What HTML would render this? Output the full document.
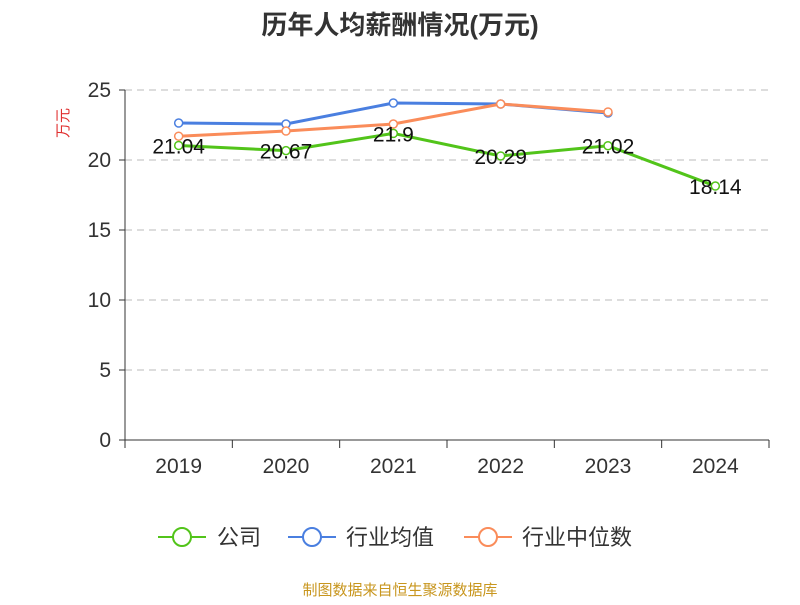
<!DOCTYPE html>
<html><head><meta charset="utf-8"><style>
body{margin:0;background:#fff;font-family:"Liberation Sans","Noto Sans CJK SC",sans-serif}
svg text{font-family:"Liberation Sans","Noto Sans CJK SC",sans-serif}
</style></head><body>
<svg id="c" width="800" height="600">
<text x="400" y="34" text-anchor="middle" font-size="26" font-weight="bold" fill="#333">历年人均薪酬情况(万元)</text>
<text x="68" y="123" text-anchor="middle" font-size="15" fill="#e03030" transform="rotate(-90 68 123)">万元</text>
<g id="grid"></g><g id="axes"></g><g id="series"></g>
<g>
<g><line x1="158" y1="537" x2="206" y2="537" stroke="#52c41a" stroke-width="2"/><circle cx="182" cy="537" r="9" fill="#fff" stroke="#52c41a" stroke-width="2"/><text x="217" y="545" font-size="22" fill="#333">公司</text></g>
<g><line x1="288" y1="537" x2="336" y2="537" stroke="#4a7fe0" stroke-width="2"/><circle cx="312" cy="537" r="9" fill="#fff" stroke="#4a7fe0" stroke-width="2"/><text x="346" y="545" font-size="22" fill="#333">行业均值</text></g>
<g><line x1="464" y1="537" x2="512" y2="537" stroke="#fa8c5a" stroke-width="2"/><circle cx="488" cy="537" r="9" fill="#fff" stroke="#fa8c5a" stroke-width="2"/><text x="522" y="545" font-size="22" fill="#333">行业中位数</text></g>
</g>
<text x="400" y="595" text-anchor="middle" font-size="15" fill="#c8961e">制图数据来自恒生聚源数据库</text>
</svg>
<script>
const categories=["2019","2020","2021","2022","2023","2024"];
const yTicks=[0,5,10,15,20,25];
const company=[21.04,20.67,21.9,20.29,21.02,18.14];
const companyLabels=["21.04","20.67","21.9","20.29","21.02","18.14"];
const industryAvg=[22.64,22.57,24.07,24.0,23.36,null];
const industryMedian=[21.7,22.07,22.57,24.0,23.43,null];
const NS="http://www.w3.org/2000/svg";
const L=125,R=769,T=90,B=440,MAX=25;
const bw=(R-L)/categories.length;
const xs=i=>L+bw*(i+0.5);
const ys=v=>B-(v/MAX)*(B-T);
function mk(t,a,p){const e=document.createElementNS(NS,t);for(const k in a)e.setAttribute(k,a[k]);p.appendChild(e);return e;}
const grid=document.getElementById('grid'),axes=document.getElementById('axes'),ser=document.getElementById('series');
yTicks.forEach(v=>{
 if(v>0){const g=mk('line',{x1:L,x2:R,y1:ys(v),y2:ys(v),stroke:'#bbb','stroke-dasharray':'7,5'},grid);
 
 }
 const tk=mk('line',{x1:L-6,x2:L,y1:ys(v),y2:ys(v),stroke:'#333'},axes);
 
 
 const t=mk('text',{x:L-14,y:ys(v)+7,'text-anchor':'end','font-size':21,fill:'#333'},axes);t.textContent=v;
 
 
});
const ya=mk('line',{x1:L,x2:L,y1:T,y2:B,stroke:'#333'},axes);


const xa=mk('line',{x1:L,x2:R,y1:B,y2:B,stroke:'#333'},axes);


for(let i=0;i<=categories.length;i++){const x=L+bw*i;const tk=mk('line',{x1:x,x2:x,y1:B,y2:B+8,stroke:'#333'},axes);
 
 }
categories.forEach((c,i)=>{const t=mk('text',{x:xs(i),y:473,'text-anchor':'middle','font-size':21,fill:'#333'},axes);t.textContent=c;
 
 });
function line(data,color,name){
 const g=mk('g',{},ser);
 
 
 const pts=data.map((v,i)=>v==null?null:[xs(i),ys(v)]).filter(p=>p);
 mk('polyline',{points:pts.map(p=>p.join(',')).join(' '),fill:'none',stroke:color,'stroke-width':3},g);
 pts.forEach(p=>{const c=mk('circle',{cx:p[0],cy:p[1],r:4,fill:'#fff',stroke:color,'stroke-width':1.5},g);
 
 });
 return g;
}
line(industryAvg,'#4a7fe0','industry-avg-line');
line(industryMedian,'#fa8c5a','industry-median-line');
const cg=line(company,'#52c41a','company-line');
company.forEach((v,i)=>{const t=mk('text',{x:xs(i),y:ys(v)+8,'text-anchor':'middle','font-size':21,fill:'#111'},cg);t.textContent=companyLabels[i];
 
 });
</script>
</body></html>
